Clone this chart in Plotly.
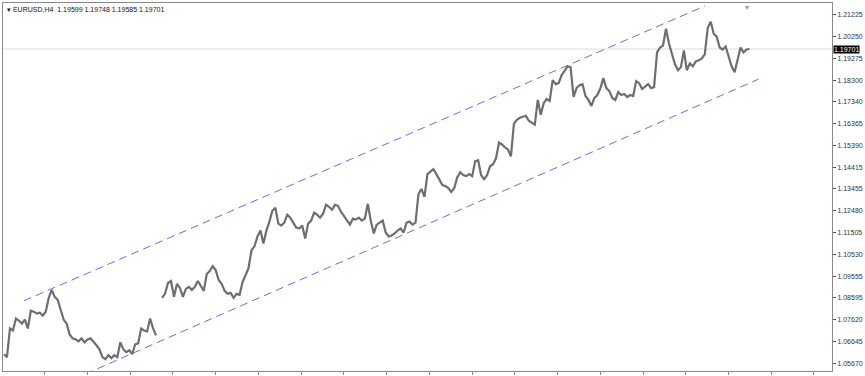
import plotly.graph_objects as go

# ---- data (EURUSD H4 price path) ----
prices = [
    1.06068, 1.05936, 1.07217, 1.07129, 1.07659, 1.07571, 1.07438, 1.07615, 1.07217, 1.08013,
    1.07968, 1.07880, 1.07924, 1.07792, 1.07968, 1.08587, 1.08941, 1.08631, 1.08499, 1.08057,
    1.07615, 1.07438, 1.06952, 1.06775, 1.06731, 1.06643, 1.06775, 1.06598, 1.06731, 1.06775,
    1.06643, 1.06466, 1.06289, 1.05936, 1.05847, 1.06024, 1.05891, 1.06024, 1.05936, 1.06598,
    1.06289, 1.06157, 1.06245, 1.06068, 1.06510, 1.06554, 1.07217, 1.07129, 1.07085, 1.07659,
    1.07217, 1.06908, None,
    1.08587, 1.08764, 1.09250, 1.09338, 1.08631, 1.09206, 1.09029, 1.08631, 1.08985, 1.09073,
    1.08941, 1.09073, 1.09338, 1.09117, 1.08896, 1.09648, 1.09780, 1.10001, 1.09824, 1.09382,
    1.09206, 1.08896, 1.08764, 1.08808, 1.08587, 1.08764, 1.08720, 1.09294, 1.09648, 1.09913,
    1.10708, 1.10885, 1.11327, 1.11592, 1.11017, 1.11592, 1.11990, 1.12476, 1.12608, 1.11901,
    1.11813, 1.11945, 1.12299, 1.12166, 1.11945, 1.11724, 1.11680, 1.11813, 1.11238, 1.11901,
    1.12034, 1.12387, 1.12299, 1.12166, 1.12343, 1.12741, 1.12652, 1.12520, 1.12741, 1.12697,
    1.12432, 1.12255, 1.12078, 1.11857, 1.12122, 1.12078, 1.12166, 1.12034, 1.12122, 1.12785,
    1.12034, 1.11459, 1.11857, 1.11945, 1.12034, 1.11504, 1.11327, 1.11371, 1.11459, 1.11592,
    1.11680, 1.11504, 1.11945, 1.11990, 1.11857, 1.11945, 1.13227, 1.13448, 1.13094, 1.14111,
    1.14243, 1.14332, 1.14111, 1.13890, 1.13625, 1.13580, 1.13492, 1.13315, 1.13492, 1.13978,
    1.14199, 1.14067, 1.14022, 1.14111, 1.14022, 1.14685, 1.14729, 1.14067, 1.13890, 1.14067,
    1.14464, 1.14553, 1.14818, 1.15525, 1.15436, 1.15304, 1.15215, 1.14906, 1.16364, 1.16541,
    1.16630, 1.16674, 1.16718, 1.16497, 1.16409, 1.16320, 1.17425, 1.16762, 1.17292, 1.17469,
    1.17381, 1.18309, 1.18132, 1.18176, 1.18530, 1.18751, 1.18927, 1.18883, 1.17558, 1.17955,
    1.18088, 1.18132, 1.17602, 1.17425, 1.17160, 1.17513, 1.17646, 1.17955, 1.18397, 1.17955,
    1.17823, 1.17513, 1.17425, 1.17779, 1.17646, 1.17690, 1.17558, 1.17646, 1.17602, 1.18265,
    1.18176, 1.17911, 1.18044, 1.18132, 1.17955, 1.17999, 1.19546, 1.19767, 1.19855, 1.20607,
    1.19944, 1.19414, 1.19016, 1.18751, 1.18883, 1.19634, 1.18751, 1.19060, 1.18927, 1.19148,
    1.19193, 1.19281, 1.19458, 1.20651, 1.20916, 1.20386, 1.20253, 1.19767, 1.19679, 1.19811,
    1.19414, 1.18927, 1.18662, 1.19281, 1.19767, 1.19546, 1.19679, 1.19701,
]
bar_index = list(range(len(prices)))

last_price = 1.19701
header_text = "EURUSD,H4  1.19599 1.19748 1.19585 1.19701"

channel_upper_x = [6.67, 235.0]
channel_upper_y = [1.08454, 1.21623]
channel_lower_x = [27.3, 253.0]
channel_lower_y = [1.05184, 1.18353]

tick_values = [1.21225, 1.20250, 1.19275, 1.18300, 1.17340, 1.16365, 1.15390, 1.14415,
               1.13455, 1.12480, 1.11505, 1.10530, 1.09555, 1.08595, 1.07620, 1.06645, 1.05670]
tick_labels = ["%.5f" % v for v in tick_values]

y_range = [1.05317, 1.21756]
x_range = [-0.333, 277.667]

fig = go.Figure()

# current price horizontal line
fig.add_trace(go.Scatter(x=x_range, y=[last_price, last_price], mode="lines",
                         line=dict(color="#dcdcdc", width=1), hoverinfo="skip"))

# channel lines
fig.add_trace(go.Scatter(x=channel_upper_x, y=channel_upper_y, mode="lines",
                         line=dict(color="#6b6be6", width=1, dash="8px,5px"), hoverinfo="skip"))
fig.add_trace(go.Scatter(x=channel_lower_x, y=channel_lower_y, mode="lines",
                         line=dict(color="#6b6be6", width=1, dash="8px,5px"), hoverinfo="skip"))

# price path
fig.add_trace(go.Scatter(x=bar_index, y=prices, mode="lines", connectgaps=False,
                         line=dict(color="#6e6e6e", width=2.2)))

fig.update_layout(
    width=865, height=376,
    margin=dict(l=3, r=28, t=2, b=2),
    paper_bgcolor="white", plot_bgcolor="white",
    showlegend=False,
    font=dict(family="Liberation Sans, Arial, sans-serif", size=7, color="#222"),
    xaxis=dict(range=x_range, showgrid=False, zeroline=False, showline=True, mirror=True,
               linecolor="#8a8a8a", linewidth=1, showticklabels=False,
               ticks="outside", ticklen=3, tickcolor="#8a8a8a", tick0=13.67, dtick=14.33),
    yaxis=dict(range=y_range, side="right", showgrid=False, zeroline=False, showline=True,
               mirror=True, linecolor="#8a8a8a", linewidth=1,
               tickvals=tick_values, ticktext=tick_labels, ticks="outside", ticklen=3,
               tickcolor="#555", tickfont=dict(size=7, color="#333")),
)

fig.add_annotation(xref="paper", yref="y", x=1.0, y=last_price, xanchor="left", yanchor="middle",
                   text="1.19701", showarrow=False, bgcolor="black",
                   font=dict(color="white", size=7), borderpad=0, xshift=1)
fig.add_annotation(xref="paper", yref="paper", x=0.0, y=1.0, xanchor="left", yanchor="top",
                   text="▾ " + header_text, showarrow=False, xshift=2, yshift=-1,
                   font=dict(size=7, color="#111"))
fig.add_annotation(xref="x", yref="paper", x=249.3, y=1.0, xanchor="center", yanchor="top",
                   text="▾", showarrow=False, font=dict(size=8, color="#999"), yshift=2)

fig.write_html("out.html")
